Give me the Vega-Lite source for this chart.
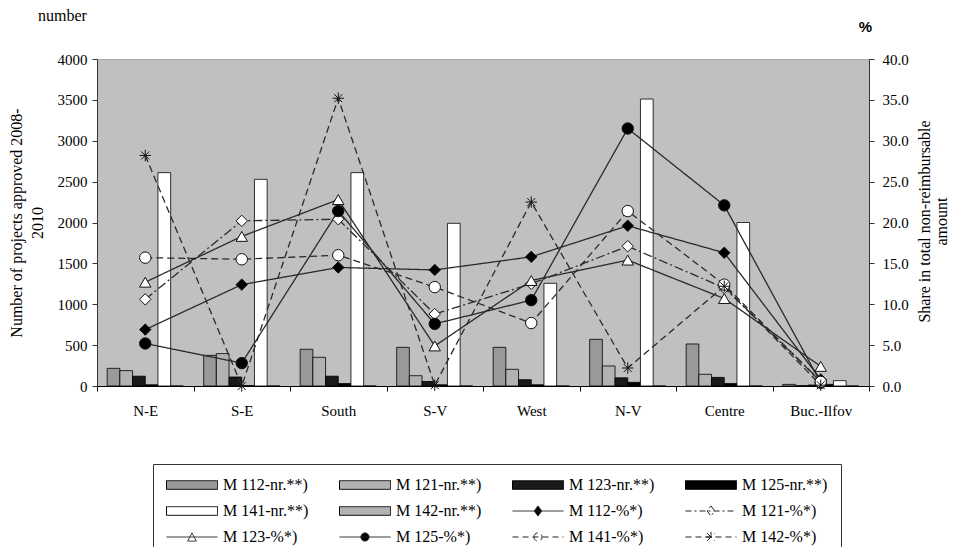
{
  "$schema": "https://vega.github.io/schema/vega-lite/v6.json",
  "width": 772,
  "height": 327,
  "autosize": {"type": "none"},
  "padding": {"left": 97, "top": 59, "right": 90, "bottom": 161},
  "background": "white",
  "view": {"fill": "#c0c0c0", "stroke": "#a8a8a8"},
  "title": {"text": "number", "anchor": "start", "frame": "group", "dx": -59, "dy": 20, "offset": 2, "baseline": "alphabetic", "font": "Liberation Serif", "fontSize": 16, "fontWeight": "normal", "color": "#000"},
  "config": {
    "view": {"fill": "#c0c0c0", "stroke": "#a8a8a8"},
    "font": "Liberation Serif",
    "axis": {"labelFont": "Liberation Serif", "titleFont": "Liberation Serif", "labelFontSize": 15, "titleFontSize": 16, "titleFontWeight": "normal", "labelColor": "#000", "titleColor": "#000", "grid": false, "domainColor": "#333", "tickColor": "#333"}
  },
  "data": {"values": [
    {"region": "N-E", "series": "M 112-nr.**)", "kind": "nr", "value": 216},
    {"region": "N-E", "series": "M 121-nr.**)", "kind": "nr", "value": 188},
    {"region": "N-E", "series": "M 123-nr.**)", "kind": "nr", "value": 120},
    {"region": "N-E", "series": "M 125-nr.**)", "kind": "nr", "value": 15},
    {"region": "N-E", "series": "M 141-nr.**)", "kind": "nr", "value": 2610},
    {"region": "N-E", "series": "M 142-nr.**)", "kind": "nr", "value": 0},
    {"region": "S-E", "series": "M 112-nr.**)", "kind": "nr", "value": 375},
    {"region": "S-E", "series": "M 121-nr.**)", "kind": "nr", "value": 396},
    {"region": "S-E", "series": "M 123-nr.**)", "kind": "nr", "value": 110},
    {"region": "S-E", "series": "M 125-nr.**)", "kind": "nr", "value": 5},
    {"region": "S-E", "series": "M 141-nr.**)", "kind": "nr", "value": 2528},
    {"region": "S-E", "series": "M 142-nr.**)", "kind": "nr", "value": 0},
    {"region": "South", "series": "M 112-nr.**)", "kind": "nr", "value": 449},
    {"region": "South", "series": "M 121-nr.**)", "kind": "nr", "value": 351},
    {"region": "South", "series": "M 123-nr.**)", "kind": "nr", "value": 120},
    {"region": "South", "series": "M 125-nr.**)", "kind": "nr", "value": 30},
    {"region": "South", "series": "M 141-nr.**)", "kind": "nr", "value": 2610},
    {"region": "South", "series": "M 142-nr.**)", "kind": "nr", "value": 0},
    {"region": "S-V", "series": "M 112-nr.**)", "kind": "nr", "value": 473},
    {"region": "S-V", "series": "M 121-nr.**)", "kind": "nr", "value": 126},
    {"region": "S-V", "series": "M 123-nr.**)", "kind": "nr", "value": 55},
    {"region": "S-V", "series": "M 125-nr.**)", "kind": "nr", "value": 15},
    {"region": "S-V", "series": "M 141-nr.**)", "kind": "nr", "value": 1990},
    {"region": "S-V", "series": "M 142-nr.**)", "kind": "nr", "value": 0},
    {"region": "West", "series": "M 112-nr.**)", "kind": "nr", "value": 473},
    {"region": "West", "series": "M 121-nr.**)", "kind": "nr", "value": 204},
    {"region": "West", "series": "M 123-nr.**)", "kind": "nr", "value": 77},
    {"region": "West", "series": "M 125-nr.**)", "kind": "nr", "value": 15},
    {"region": "West", "series": "M 141-nr.**)", "kind": "nr", "value": 1256},
    {"region": "West", "series": "M 142-nr.**)", "kind": "nr", "value": 0},
    {"region": "N-V", "series": "M 112-nr.**)", "kind": "nr", "value": 571},
    {"region": "N-V", "series": "M 121-nr.**)", "kind": "nr", "value": 245},
    {"region": "N-V", "series": "M 123-nr.**)", "kind": "nr", "value": 100},
    {"region": "N-V", "series": "M 125-nr.**)", "kind": "nr", "value": 45},
    {"region": "N-V", "series": "M 141-nr.**)", "kind": "nr", "value": 3510},
    {"region": "N-V", "series": "M 142-nr.**)", "kind": "nr", "value": 0},
    {"region": "Centre", "series": "M 112-nr.**)", "kind": "nr", "value": 514},
    {"region": "Centre", "series": "M 121-nr.**)", "kind": "nr", "value": 143},
    {"region": "Centre", "series": "M 123-nr.**)", "kind": "nr", "value": 105},
    {"region": "Centre", "series": "M 125-nr.**)", "kind": "nr", "value": 30},
    {"region": "Centre", "series": "M 141-nr.**)", "kind": "nr", "value": 2000},
    {"region": "Centre", "series": "M 142-nr.**)", "kind": "nr", "value": 0},
    {"region": "Buc.-Ilfov", "series": "M 112-nr.**)", "kind": "nr", "value": 20},
    {"region": "Buc.-Ilfov", "series": "M 121-nr.**)", "kind": "nr", "value": 5},
    {"region": "Buc.-Ilfov", "series": "M 123-nr.**)", "kind": "nr", "value": 12},
    {"region": "Buc.-Ilfov", "series": "M 125-nr.**)", "kind": "nr", "value": 20},
    {"region": "Buc.-Ilfov", "series": "M 141-nr.**)", "kind": "nr", "value": 65},
    {"region": "Buc.-Ilfov", "series": "M 142-nr.**)", "kind": "nr", "value": 0},
    {"region": "N-E", "series": "M 112-%*)", "kind": "pct", "value": 6.9},
    {"region": "N-E", "series": "M 121-%*)", "kind": "pct", "value": 10.6},
    {"region": "N-E", "series": "M 123-%*)", "kind": "pct", "value": 12.7},
    {"region": "N-E", "series": "M 125-%*)", "kind": "pct", "value": 5.2},
    {"region": "N-E", "series": "M 141-%*)", "kind": "pct", "value": 15.7},
    {"region": "N-E", "series": "M 142-%*)", "kind": "pct", "value": 28.2},
    {"region": "S-E", "series": "M 112-%*)", "kind": "pct", "value": 12.4},
    {"region": "S-E", "series": "M 121-%*)", "kind": "pct", "value": 20.2},
    {"region": "S-E", "series": "M 123-%*)", "kind": "pct", "value": 18.3},
    {"region": "S-E", "series": "M 125-%*)", "kind": "pct", "value": 2.8},
    {"region": "S-E", "series": "M 141-%*)", "kind": "pct", "value": 15.5},
    {"region": "S-E", "series": "M 142-%*)", "kind": "pct", "value": 0.0},
    {"region": "South", "series": "M 112-%*)", "kind": "pct", "value": 14.5},
    {"region": "South", "series": "M 121-%*)", "kind": "pct", "value": 20.4},
    {"region": "South", "series": "M 123-%*)", "kind": "pct", "value": 22.8},
    {"region": "South", "series": "M 125-%*)", "kind": "pct", "value": 21.4},
    {"region": "South", "series": "M 141-%*)", "kind": "pct", "value": 16.0},
    {"region": "South", "series": "M 142-%*)", "kind": "pct", "value": 35.2},
    {"region": "S-V", "series": "M 112-%*)", "kind": "pct", "value": 14.2},
    {"region": "S-V", "series": "M 121-%*)", "kind": "pct", "value": 8.8},
    {"region": "S-V", "series": "M 123-%*)", "kind": "pct", "value": 4.9},
    {"region": "S-V", "series": "M 125-%*)", "kind": "pct", "value": 7.6},
    {"region": "S-V", "series": "M 141-%*)", "kind": "pct", "value": 12.1},
    {"region": "S-V", "series": "M 142-%*)", "kind": "pct", "value": 0.1},
    {"region": "West", "series": "M 112-%*)", "kind": "pct", "value": 15.8},
    {"region": "West", "series": "M 121-%*)", "kind": "pct", "value": 12.5},
    {"region": "West", "series": "M 123-%*)", "kind": "pct", "value": 12.9},
    {"region": "West", "series": "M 125-%*)", "kind": "pct", "value": 10.5},
    {"region": "West", "series": "M 141-%*)", "kind": "pct", "value": 7.7},
    {"region": "West", "series": "M 142-%*)", "kind": "pct", "value": 22.5},
    {"region": "N-V", "series": "M 112-%*)", "kind": "pct", "value": 19.6},
    {"region": "N-V", "series": "M 121-%*)", "kind": "pct", "value": 17.1},
    {"region": "N-V", "series": "M 123-%*)", "kind": "pct", "value": 15.4},
    {"region": "N-V", "series": "M 125-%*)", "kind": "pct", "value": 31.5},
    {"region": "N-V", "series": "M 141-%*)", "kind": "pct", "value": 21.4},
    {"region": "N-V", "series": "M 142-%*)", "kind": "pct", "value": 2.2},
    {"region": "Centre", "series": "M 112-%*)", "kind": "pct", "value": 16.3},
    {"region": "Centre", "series": "M 121-%*)", "kind": "pct", "value": 12.0},
    {"region": "Centre", "series": "M 123-%*)", "kind": "pct", "value": 10.7},
    {"region": "Centre", "series": "M 125-%*)", "kind": "pct", "value": 22.1},
    {"region": "Centre", "series": "M 141-%*)", "kind": "pct", "value": 12.4},
    {"region": "Centre", "series": "M 142-%*)", "kind": "pct", "value": 12.2},
    {"region": "Buc.-Ilfov", "series": "M 112-%*)", "kind": "pct", "value": 0.8},
    {"region": "Buc.-Ilfov", "series": "M 121-%*)", "kind": "pct", "value": 0.6},
    {"region": "Buc.-Ilfov", "series": "M 123-%*)", "kind": "pct", "value": 2.4},
    {"region": "Buc.-Ilfov", "series": "M 125-%*)", "kind": "pct", "value": 0.4},
    {"region": "Buc.-Ilfov", "series": "M 141-%*)", "kind": "pct", "value": 0.5},
    {"region": "Buc.-Ilfov", "series": "M 142-%*)", "kind": "pct", "value": 0.1}
  ]},
  "layer": [
    {
      "transform": [{"filter": "datum.kind === 'nr'"}],
      "mark": {"type": "bar", "stroke": "#000", "strokeWidth": 0.8},
      "encoding": {
        "x": {"field": "region", "type": "nominal", "sort": ["N-E", "S-E", "South", "S-V", "West", "N-V", "Centre", "Buc.-Ilfov"], "scale": {"paddingInner": 0, "paddingOuter": 0}, "axis": {"orient": "bottom", "title": null, "labelAngle": 0, "tickBand": "extent", "tickSize": 5, "labelPadding": 12, "domainColor": "#000", "tickColor": "#000"}},
        "xOffset": {"field": "series", "type": "nominal", "sort": null, "scale": {"domain": ["M 112-nr.**)", "M 121-nr.**)", "M 123-nr.**)", "M 125-nr.**)", "M 141-nr.**)", "M 142-nr.**)"], "paddingInner": 0, "paddingOuter": 0.8}},
        "y": {"field": "value", "type": "quantitative", "scale": {"domain": [0, 4000], "nice": false}, "axis": {"orient": "left", "values": [0, 500, 1000, 1500, 2000, 2500, 3000, 3500, 4000], "format": "d", "title": ["Number of projects approved 2008-", "2010"], "titleLineHeight": 21, "titlePadding": 12, "tickSize": 5, "labelPadding": 5}},
        "fill": {"field": "series", "type": "nominal", "scale": {"domain": ["M 112-nr.**)", "M 121-nr.**)", "M 123-nr.**)", "M 125-nr.**)", "M 141-nr.**)", "M 142-nr.**)"], "range": ["#999999", "#b2b2b2", "#1a1a1a", "#000000", "#ffffff", "#b2b2b2"]}, "legend": null}
      }
    },
    {
      "transform": [{"filter": "datum.kind === 'pct'"}],
      "encoding": {
        "x": {"field": "region", "type": "nominal", "sort": ["N-E", "S-E", "South", "S-V", "West", "N-V", "Centre", "Buc.-Ilfov"], "axis": {"orient": "top", "labels": false, "ticks": false, "domain": false, "title": "%", "titleX": 768, "titleY": -28, "titleAlign": "center", "titleBaseline": "alphabetic", "titleFont": "Liberation Sans", "titleFontWeight": "bold", "titleFontSize": 15}},
        "y": {"field": "value", "type": "quantitative", "scale": {"domain": [0, 40], "nice": false}, "axis": {"orient": "right", "values": [0, 5, 10, 15, 20, 25, 30, 35, 40], "format": ".1f", "title": ["Share in total non-reimbursable", "amount"], "titleAngle": 270, "titleBaseline": "middle", "titleAlign": "center", "titleX": 55, "titleY": 162, "titleLineHeight": 17, "tickSize": 5, "labelPadding": 8}}
      },
      "layer": [
        {
          "mark": {"type": "line", "strokeWidth": 1.3, "color": "#2a2a2a"},
          "encoding": {
            "detail": {"field": "series", "type": "nominal"},
            "strokeDash": {"field": "series", "type": "nominal", "scale": {"domain": ["M 112-%*)", "M 121-%*)", "M 123-%*)", "M 125-%*)", "M 141-%*)", "M 142-%*)"], "range": [[1, 0], [9, 3, 2, 3], [1, 0], [1, 0], [7, 4], [7, 4]]}, "legend": null}
          }
        },
        {
          "mark": {"type": "point", "filled": true, "opacity": 1, "stroke": "#111111", "strokeWidth": 1},
          "encoding": {
            "shape": {"field": "series", "type": "nominal", "scale": {"domain": ["M 112-%*)", "M 121-%*)", "M 123-%*)", "M 125-%*)", "M 141-%*)", "M 142-%*)"], "range": ["diamond", "diamond", "triangle-up", "circle", "circle", "M-1,0H1M0,-1V1M-0.7,-0.7L0.7,0.7M-0.7,0.7L0.7,-0.7"]}, "legend": null},
            "fill": {"field": "series", "type": "nominal", "scale": {"domain": ["M 112-%*)", "M 121-%*)", "M 123-%*)", "M 125-%*)", "M 141-%*)", "M 142-%*)"], "range": ["#000000", "#ffffff", "#ffffff", "#000000", "#ffffff", "#ffffff"]}, "legend": null},
            "size": {"field": "series", "type": "nominal", "scale": {"domain": ["M 112-%*)", "M 121-%*)", "M 123-%*)", "M 125-%*)", "M 141-%*)", "M 142-%*)"], "range": [130, 130, 130, 100, 100, 200]}, "legend": null}
          }
        }
      ]
    },
    {
      "transform": [{"filter": "false"}],
      "mark": {"type": "point", "filled": true, "opacity": 1, "strokeWidth": 1, "size": 2601},
      "encoding": {
        "shape": {"field": "series", "type": "nominal", "scale": {"domain": ["M 112-nr.**)", "M 121-nr.**)", "M 123-nr.**)", "M 125-nr.**)", "M 141-nr.**)", "M 142-nr.**)", "M 112-%*)", "M 121-%*)", "M 123-%*)", "M 125-%*)", "M 141-%*)", "M 142-%*)"], "range": [
          "M-1,-0.17H1V0.17H-1Z", "M-1,-0.17H1V0.17H-1Z", "M-1,-0.17H1V0.17H-1Z", "M-1,-0.17H1V0.17H-1Z", "M-1,-0.17H1V0.17H-1Z", "M-1,-0.17H1V0.17H-1Z",
          "M-1,0H1M0,-0.2L0.15,0L0,0.2L-0.15,0Z",
          "M-1,0H1M0,-0.2L0.15,0L0,0.2L-0.15,0Z",
          "M-1,0H1M0,-0.16L0.17,0.16L-0.17,0.16Z",
          "M-1,0H1M-0.16,0A0.16,0.16,0,1,1,0.16,0A0.16,0.16,0,1,1,-0.16,0Z",
          "M-1,0H1M-0.16,0A0.16,0.16,0,1,1,0.16,0A0.16,0.16,0,1,1,-0.16,0Z",
          "M-1,0H1M-0.2,0H0.2M0,-0.2V0.2M-0.15,-0.15L0.15,0.15M-0.15,0.15L0.15,-0.15"
        ]}, "legend": {"orient": "none", "legendX": 56, "legendY": 405, "columns": 4, "direction": "horizontal", "title": null, "symbolSize": 2601, "clipHeight": 16, "gridAlign": "all", "columnPadding": 30, "rowPadding": 10, "padding": 13, "labelFont": "Liberation Serif", "labelFontSize": 16, "labelColor": "#000", "labelOffset": 5, "labelLimit": 200, "strokeColor": "#333", "fillColor": "#ffffff", "symbolStrokeWidth": 1}},
        "fill": {"field": "series", "type": "nominal", "scale": {"domain": ["M 112-nr.**)", "M 121-nr.**)", "M 123-nr.**)", "M 125-nr.**)", "M 141-nr.**)", "M 142-nr.**)", "M 112-%*)", "M 121-%*)", "M 123-%*)", "M 125-%*)", "M 141-%*)", "M 142-%*)"], "range": ["#999999", "#b2b2b2", "#1a1a1a", "#000000", "#ffffff", "#b2b2b2", "#000000", "#ffffff", "#ffffff", "#000000", "#ffffff", "#ffffff"]}},
        "stroke": {"field": "series", "type": "nominal", "scale": {"domain": ["M 112-nr.**)", "M 121-nr.**)", "M 123-nr.**)", "M 125-nr.**)", "M 141-nr.**)", "M 142-nr.**)", "M 112-%*)", "M 121-%*)", "M 123-%*)", "M 125-%*)", "M 141-%*)", "M 142-%*)"], "range": ["#000000", "#000000", "#000000", "#000000", "#000000", "#000000", "#222222", "#222222", "#222222", "#222222", "#222222", "#222222"]}},
        "strokeDash": {"field": "series", "type": "nominal", "scale": {"domain": ["M 112-nr.**)", "M 121-nr.**)", "M 123-nr.**)", "M 125-nr.**)", "M 141-nr.**)", "M 142-nr.**)", "M 112-%*)", "M 121-%*)", "M 123-%*)", "M 125-%*)", "M 141-%*)", "M 142-%*)"], "range": [[1, 0], [1, 0], [1, 0], [1, 0], [1, 0], [1, 0], [1, 0], [6, 3, 2, 3], [1, 0], [1, 0], [6, 4], [6, 4]]}}
      }
    }
  ],
  "resolve": {"scale": {"y": "independent", "fill": "independent", "shape": "independent", "stroke": "independent", "strokeDash": "independent", "size": "independent"}}
}
